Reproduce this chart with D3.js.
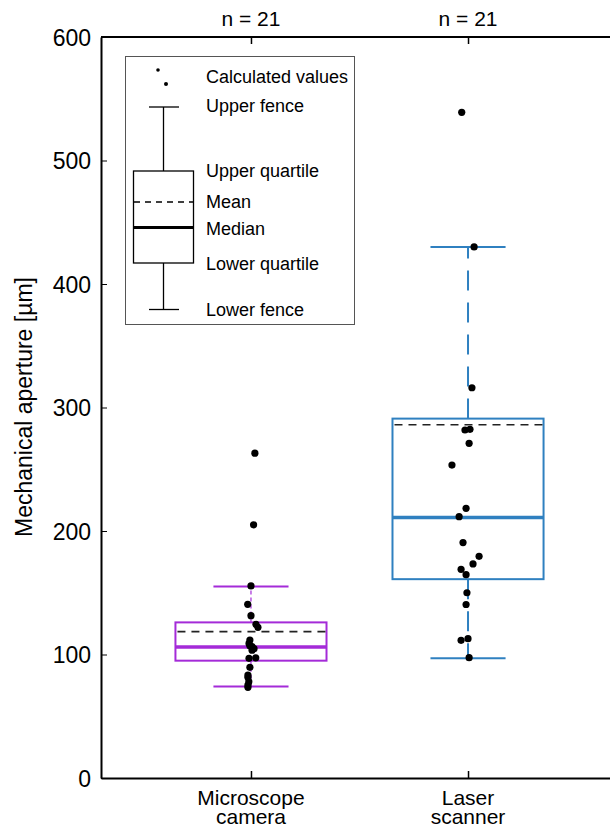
<!DOCTYPE html>
<html>
<head>
<meta charset="utf-8">
<script src="https://cdn.jsdelivr.net/npm/d3@7/dist/d3.min.js"></script>
<style>
body{margin:0;background:#fff;}
svg text{font-family:"Liberation Sans",Arial,sans-serif;fill:#000;}
</style>
</head>
<body>
<script>
// categories and box statistics
var categories=['Microscope camera','Laser scanner'];
var catLines=[['Microscope','camera'],['Laser','scanner']];
var counts=[21,21];
var colors=['#a42bd8','#2f80c0'];
var lowerFence=[74,97];
var lowerQuartile=[95,161];
var medians=[106,211];
var means=[118.5,286];
var upperQuartile=[126,291];
var upperFence=[155,430];

// calculated values (points) and their horizontal jitter, category units
var microValues=[263,205,155.5,140.6,131.4,124.4,122,111.7,109,107,106.3,104.7,103.5,97.3,96.9,89.6,83.4,81.5,78,75.3,73.4];
var microJitter=[0.018,0.012,0,-0.015,0,0.023,0.032,-0.005,-0.009,-0.005,0.005,0.014,0.005,0.022,-0.009,-0.005,-0.014,-0.014,-0.01,-0.014,-0.014];
var laserValues=[539,430,316,282.3,281.8,271,253.4,218.4,211.6,190.6,179.5,173.3,169,164.6,150,140.5,112.8,111.5,97.4];
var laserJitter=[-0.029,0.028,0.018,0.009,-0.014,0.005,-0.074,-0.009,-0.041,-0.023,0.051,0.023,-0.032,-0.009,-0.005,-0.009,0,-0.032,0.005];
var yTicks=[0,100,200,300,400,500,600];

var width=610,height=829;
var svg=d3.select('body').append('svg').attr('width',width).attr('height',height);

var x=d3.scaleLinear().domain([0.309,2.691]).range([101,618]);
var y=d3.scaleLinear().domain([0,600]).range([778,37]);
var boxHalf=0.348, capHalf=0.173;

// frame
svg.append('line').attr('x1',x.range()[0]).attr('x2',x.range()[1]).attr('y1',y(600)).attr('y2',y(600)).attr('stroke','#000').attr('stroke-width',2);

var yAxis=d3.axisLeft(y).tickValues(yTicks).tickSizeInner(-6).tickSizeOuter(0);
var gy=svg.append('g').attr('transform','translate('+x.range()[0]+',0)').call(yAxis);
gy.select('.domain').attr('stroke-width',2);
gy.selectAll('.tick text').style('font-size','23px').attr('x',-10).attr('dy','0.36em').style('font-family','Liberation Sans, Arial, sans-serif');

var xAxisB=d3.axisBottom(x).tickValues([1,2]).tickSizeInner(-7).tickSizeOuter(0).tickFormat('');
var gx=svg.append('g').attr('transform','translate(0,'+y(0)+')').call(xAxisB);
gx.select('.domain').attr('stroke-width',2);
gx.selectAll('.tick line').attr('stroke-width',1.5);

var xAxisT=d3.axisTop(x).tickValues([1,2]).tickSizeInner(-7).tickSizeOuter(0).tickFormat('');
var gt=svg.append('g').attr('transform','translate(0,'+y(600)+')').call(xAxisT);
gt.select('.domain').remove();
gt.selectAll('.tick line').attr('stroke-width',1.5);

// n labels
svg.selectAll('.nlab').data(counts).enter().append('text')
.attr('x',(d,i)=>x(i+1)).attr('y',26).attr('text-anchor','middle')
.style('font-size','21px').text(d=>'n = '+d);

// category labels
catLines.forEach(function(lines,i){
    var t=svg.append('text').attr('text-anchor','middle').style('font-size','21px');
    lines.forEach(function(l,j){
        t.append('tspan').attr('x',x(i+1)).attr('y',805+j*19).text(l);
    });
});

// y title
svg.append('text').attr('transform','translate(32,407) rotate(-90)')
.attr('text-anchor','middle').style('font-size','23px').text('Mechanical aperture [µm]');

// boxes
categories.forEach(function(c,i){
    var g=svg.append('g');
    var cx=i+1, col=colors[i];
    var dash=i==0?'4,3':'20,12';
    var ww=i==0?1.2:2;
    g.append('line').attr('x1',x(cx)).attr('x2',x(cx)).attr('y1',y(upperQuartile[i])).attr('y2',y(upperFence[i]))
    .attr('stroke',col).attr('stroke-width',ww).attr('stroke-dasharray',dash);
    g.append('line').attr('x1',x(cx)).attr('x2',x(cx)).attr('y1',y(lowerQuartile[i])).attr('y2',y(lowerFence[i]))
    .attr('stroke',col).attr('stroke-width',ww).attr('stroke-dasharray',dash);
    [upperFence[i],lowerFence[i]].forEach(function(v){
        g.append('line').attr('x1',x(cx-capHalf)).attr('x2',x(cx+capHalf)).attr('y1',y(v)).attr('y2',y(v))
        .attr('stroke',col).attr('stroke-width',2);
    });
    g.append('rect').attr('x',x(cx-boxHalf)).attr('width',x(cx+boxHalf)-x(cx-boxHalf))
    .attr('y',y(upperQuartile[i])).attr('height',y(lowerQuartile[i])-y(upperQuartile[i]))
    .attr('fill','none').attr('stroke',col).attr('stroke-width',2);
    g.append('line').attr('x1',x(cx-boxHalf)).attr('x2',x(cx+boxHalf)).attr('y1',y(medians[i])).attr('y2',y(medians[i]))
    .attr('stroke',col).attr('stroke-width',3.5);
    g.append('line').attr('x1',x(cx-boxHalf)+2).attr('x2',x(cx+boxHalf)).attr('y1',y(means[i])).attr('y2',y(means[i]))
    .attr('stroke','#222').attr('stroke-width',1.6).attr('stroke-dasharray','8,6');
});

// points
[[microValues,microJitter],[laserValues,laserJitter]].forEach(function(s,i){
    svg.append('g').selectAll('circle').data(s[0]).enter().append('circle')
    .attr('cx',(d,j)=>x(i+1+s[1][j])).attr('cy',d=>y(d)).attr('r',3.6).attr('fill','#000');
});

// legend
var lg=svg.append('g');
lg.append('rect').attr('x',125.5).attr('y',56.5).attr('width',229).attr('height',268)
.attr('fill','#fff').attr('stroke','#555').attr('stroke-width',1);
lg.append('circle').attr('cx',158).attr('cy',70).attr('r',1.8).attr('fill','#000');
lg.append('circle').attr('cx',166).attr('cy',84).attr('r',2).attr('fill','#000');
lg.append('line').attr('x1',149).attr('x2',179).attr('y1',107).attr('y2',107).attr('stroke','#000').attr('stroke-width',1.3);
lg.append('line').attr('x1',149).attr('x2',179).attr('y1',309.5).attr('y2',309.5).attr('stroke','#000').attr('stroke-width',1.3);
lg.append('line').attr('x1',163.5).attr('x2',163.5).attr('y1',107).attr('y2',171).attr('stroke','#000').attr('stroke-width',1.3);
lg.append('line').attr('x1',163.5).attr('x2',163.5).attr('y1',263).attr('y2',309).attr('stroke','#000').attr('stroke-width',1.3);
lg.append('rect').attr('x',133.5).attr('y',171).attr('width',60).attr('height',92).attr('fill','none').attr('stroke','#000').attr('stroke-width',1.3);
lg.append('line').attr('x1',134).attr('x2',193).attr('y1',202).attr('y2',202).attr('stroke','#000').attr('stroke-width',1.3).attr('stroke-dasharray','6,5');
lg.append('line').attr('x1',134).attr('x2',193).attr('y1',227.5).attr('y2',227.5).attr('stroke','#000').attr('stroke-width',3);
var legendText=['Calculated values','Upper fence','Upper quartile','Mean','Median','Lower quartile','Lower fence'];
var legendY=[83,112,177,208,235,270,316];
lg.selectAll('.lt').data(legendText).enter().append('text')
.attr('x',206).attr('y',(d,i)=>legendY[i]).style('font-size','18px').text(d=>d);
</script>
</body>
</html>
